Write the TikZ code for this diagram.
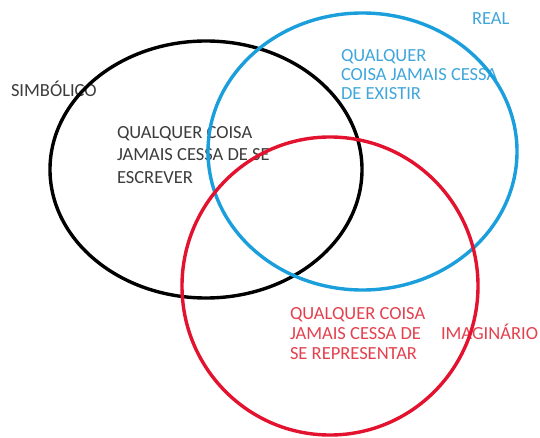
\documentclass[tikz,border=0pt]{standalone}
\usepackage{fontspec}
\setmainfont{Carlito}
\definecolor{cblack}{HTML}{000000}
\definecolor{cblue}{HTML}{1A9FDC}
\definecolor{cred}{HTML}{E3132F}
\definecolor{tblack}{HTML}{3C3C3C}
\definecolor{tblue}{HTML}{40A6DC}
\definecolor{tred}{HTML}{E4414F}
\begin{document}
\begin{tikzpicture}[x=1pt,y=-1pt,
  ring/.style={line width=3.4pt},
  lbl/.style={inner sep=0pt,outer sep=0pt,font=\fontsize{18.5}{22}\selectfont},
  blk/.style={lbl,align=left,anchor=north west}]
\useasboundingbox[fill=white] (0,0) rectangle (540,438);
% texts (under the rings)
\node[lbl,anchor=base west,text=tblack] (simb) at (11,97) {SIMBÓLICO};
\node[blk,text=tblack,font=\fontsize{18.5}{22.5}\selectfont] (tsimb) at (117,126) {QUALQUER COISA\\JAMAIS CESSA DE SE\\ESCREVER};
\node[lbl,anchor=base west,text=tblue] (real) at (472,25) {REAL};
\node[blk,text=tblue,font=\fontsize{18.5}{19.3}\selectfont] (treal) at (341,49) {QUALQUER\\COISA JAMAIS CESSA\\DE EXISTIR};
\node[blk,text=tred,font=\fontsize{18.5}{20}\selectfont] (timag) at (290,307) {QUALQUER COISA\\JAMAIS CESSA DE\\SE REPRESENTAR};
\node[lbl,anchor=base west,text=tred] (imag) at (441,339) {IMAGINÁRIO};
% rings
\draw[ring,cblack] (206,169.5) ellipse [x radius=156, y radius=128.5];
\draw[ring,cblue] (362.5,151.5) ellipse [x radius=154.5, y radius=138.5];
\draw[ring,cred] (330,286) ellipse [x radius=148, y radius=149];
\end{tikzpicture}
\end{document}
